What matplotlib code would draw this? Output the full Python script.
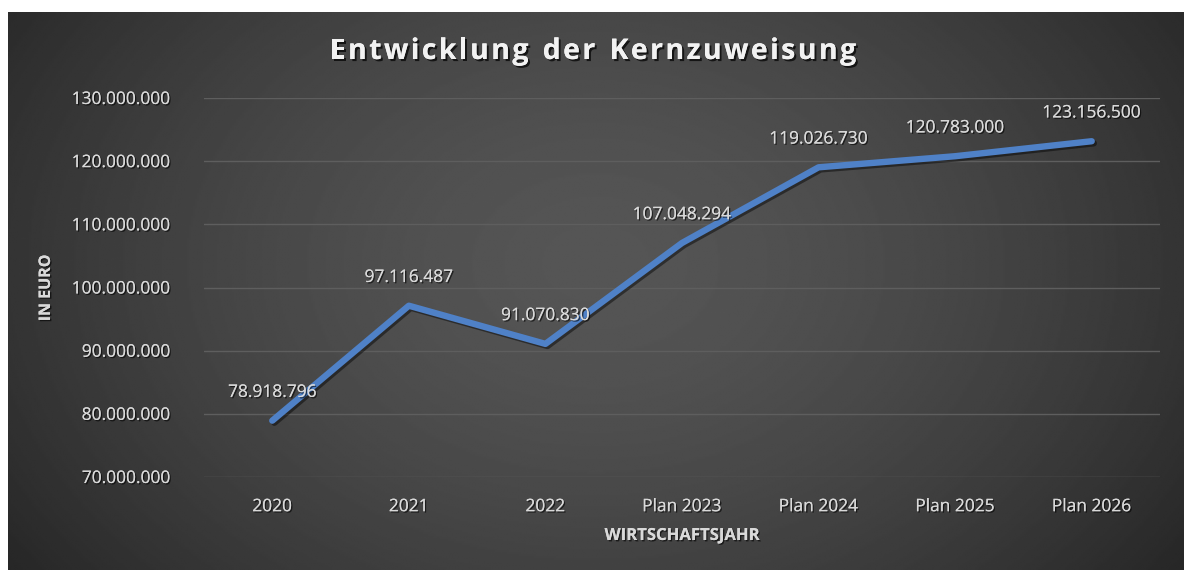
import numpy as np
import matplotlib
matplotlib.use("Agg")
import matplotlib.pyplot as plt
import matplotlib.patheffects as pe
from matplotlib.ticker import FuncFormatter

# Kernzuweisung per Wirtschaftsjahr (Euro)
years = ["2020", "2021", "2022", "Plan 2023", "Plan 2024", "Plan 2025", "Plan 2026"]
values = [78918796, 97116487, 91070830, 107048294, 119026730, 120783000, 123156500]
y_ticks = [70000000, 80000000, 90000000, 100000000, 110000000, 120000000, 130000000]
title = "Entwicklung der Kernzuweisung"


def de_format(v, _pos=None):
    return f"{int(round(v)):,}".replace(",", ".")


W, H = 1184, 570
fig = plt.figure(figsize=(W / 100, H / 100), dpi=100, facecolor="white")

# dark radial-gradient panel
bg = fig.add_axes([8 / W, 0, 1 - 8 / W, 1 - 12 / H], zorder=-5)
bg.set_axis_off()
gx, gy = np.meshgrid(np.linspace(0, 1, 600), np.linspace(0, 1, 300))
r = np.sqrt(((gx - 0.50) / 0.62) ** 2 + ((gy - 0.45) / 0.95) ** 2)
r = np.clip(r, 0, 1)
c_in, c_out = 0.335, 0.150
shade = c_in + (c_out - c_in) * r ** 1.6
bg.imshow(shade, cmap="gray", vmin=0, vmax=1, extent=[0, 1, 0, 1],
          aspect="auto", origin="upper", interpolation="bilinear")

font = "Open Sans"
txt_col = "#d9d9d9"
shadow = [pe.withSimplePatchShadow(offset=(1, -1), shadow_rgbFace="black", alpha=0.6), pe.Normal()]
fs = 12.5

ax = fig.add_axes([204 / W, 1 - 477 / H, (1160 - 204) / W, (477 - 98) / H])
ax.set_facecolor("none")
x = np.arange(len(years))
ax.plot(x, values, color="#4f81c7", lw=4.6, solid_capstyle="round", solid_joinstyle="round",
        zorder=3, path_effects=[pe.SimpleLineShadow(offset=(1.5, -1.5), shadow_color="black", alpha=0.45), pe.Normal()])

ax.set_xlim(-0.5, len(years) - 0.5)
ax.set_ylim(y_ticks[0], y_ticks[-1])
ax.set_yticks(y_ticks)
ax.yaxis.set_major_formatter(FuncFormatter(de_format))
ax.set_xticks(x)
ax.set_xticklabels(years)
ax.grid(axis="y", color="#5e5e5e", lw=1.0)
ax.set_axisbelow(True)
for s in ax.spines.values():
    s.set_visible(False)
ax.tick_params(length=0, labelcolor=txt_col, labelsize=fs)
ax.tick_params(axis="y", pad=24)
ax.tick_params(axis="x", pad=16)
for lab in ax.get_xticklabels() + ax.get_yticklabels():
    lab.set_fontfamily(font)
    lab.set_path_effects(shadow)

for xi, v in zip(x, values):
    ax.annotate(de_format(v), (xi, v), xytext=(0, 20), textcoords="offset points",
                ha="center", va="center", color=txt_col, fontsize=fs, family=font,
                path_effects=shadow, zorder=4)

# letter-spaced title, laid out glyph by glyph
renderer = fig.canvas.get_renderer()
title_kw = dict(color="#f2f2f2", fontsize=20.5, fontweight="bold", family=font, va="baseline",
                path_effects=[pe.withSimplePatchShadow(offset=(1.5, -1.5), shadow_rgbFace="black", alpha=0.7), pe.Normal()])
tracking = 2.4  # extra pixels between glyphs
widths = []
for ch in title:
    probe = fig.text(0, 0, ch if ch != " " else "n", **title_kw)
    w = probe.get_window_extent(renderer).width
    if ch == " ":
        w *= 0.5
    widths.append(w)
    probe.remove()
total = sum(widths) + tracking * (len(title) - 1)
cx, base_y = 593, 1 - 59 / H
xpos = cx - total / 2
for ch, w in zip(title, widths):
    if ch != " ":
        fig.text(xpos / W, base_y, ch, ha="left", **title_kw)
    xpos += w + tracking

fig.text(682 / W, 1 - 535 / H, "WIRTSCHAFTSJAHR", ha="center", va="center",
         color=txt_col, fontsize=12, fontweight="bold", family=font, path_effects=shadow)
fig.text(46 / W, 1 - 288 / H, "IN EURO", ha="center", va="center", rotation=90,
         color=txt_col, fontsize=11.5, fontweight="bold", family=font, path_effects=shadow)

fig.savefig("out.png", dpi=100, facecolor="white")
